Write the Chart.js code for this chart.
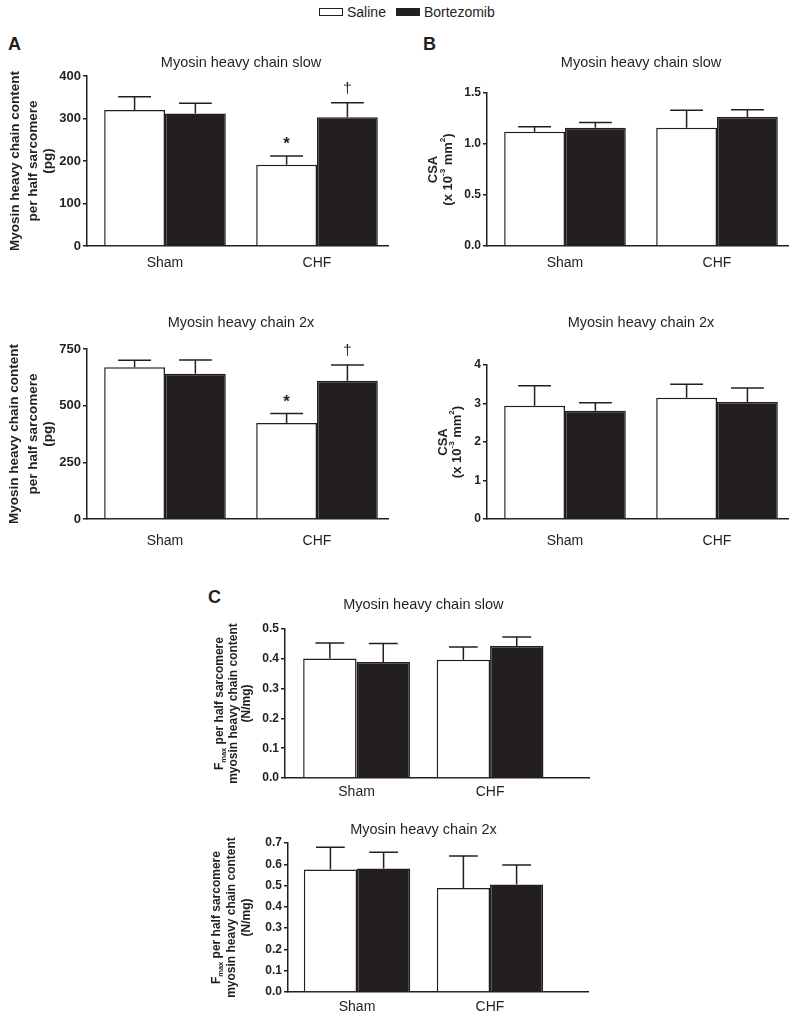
<!DOCTYPE html>
<html>
<head>
<meta charset="utf-8">
<script src="https://cdn.jsdelivr.net/npm/chart.js@4.4.1/dist/chart.umd.min.js"></script>
<style>
  body { margin: 0; background: #fff; font-family: "Liberation Sans", Arial, sans-serif; color: #231f20; }
  #page { position: relative; width: 800px; height: 1020px; overflow: hidden; }
  canvas { position: absolute; }
  .letter { position: absolute; font-weight: bold; font-size: 18px; line-height: 1; }
  #legend { position: absolute; top: 4px; left: 319px; display: flex; align-items: center; font-size: 14px; line-height: 16px; }
  .swatch { width: 22px; height: 6px; border: 1.5px solid #231f20; margin-right: 4px; }
</style>
</head>
<body>
<div id="page">
  <div id="legend">
    <span class="swatch" style="background:#fff"></span><span style="margin-right:10px">Saline</span>
    <span class="swatch" style="background:#231f20"></span><span>Bortezomib</span>
  </div>
  <div class="letter" style="left:8px;top:35px">A</div>
  <div class="letter" style="left:423px;top:35px">B</div>
  <div class="letter" style="left:208px;top:588px">C</div>
  <canvas id="a1" width="400" height="270"></canvas>
  <canvas id="a2" width="400" height="260"></canvas>
  <canvas id="b1" width="400" height="270"></canvas>
  <canvas id="b2" width="400" height="260"></canvas>
  <canvas id="c1" width="410" height="230"></canvas>
  <canvas id="c2" width="410" height="215"></canvas>
</div>
<script>
const groups = ["Sham", "CHF"];

// A: myosin heavy chain content per half sarcomere (pg), mean and SEM
const contentSlowSaline = [320, 191];
const contentSlowSalineSem = [31, 21];
const contentSlowBortezomib = [312, 303];
const contentSlowBortezomibSem = [24, 34];
const content2xSaline = [669, 424];
const content2xSalineSem = [31, 41];
const content2xBortezomib = [641, 610];
const content2xBortezomibSem = [60, 69];

// B: CSA (x10^-3 mm^2)
const csaSlowSaline = [1.12, 1.16];
const csaSlowSalineSem = [0.05, 0.17];
const csaSlowBortezomib = [1.16, 1.265];
const csaSlowBortezomibSem = [0.05, 0.07];
const csa2xSaline = [2.94, 3.15];
const csa2xSalineSem = [0.52, 0.35];
const csa2xBortezomib = [2.81, 3.04];
const csa2xBortezomibSem = [0.21, 0.36];

// C: Fmax per half sarcomere / myosin heavy chain content (N/mg)
const fmaxSlowSaline = [0.401, 0.397];
const fmaxSlowSalineSem = [0.052, 0.043];
const fmaxSlowBortezomib = [0.389, 0.443];
const fmaxSlowBortezomibSem = [0.062, 0.030];
const fmax2xSaline = [0.575, 0.489];
const fmax2xSalineSem = [0.105, 0.150];
const fmax2xBortezomib = [0.580, 0.505];
const fmax2xBortezomibSem = [0.076, 0.092];

// significance marks
const salineMarks = ["", "*"];
const bortezomibMarks = ["", "\u2020"];
const noMarks = ["", ""];

// y tick labels
const contentSlowTicks = [0, 100, 200, 300, 400];
const content2xTicks = [0, 250, 500, 750];
const csaSlowTicks = [0, 0.5, 1.0, 1.5];
const csa2xTicks = [0, 1, 2, 3, 4];
const fmaxSlowTicks = [0, 0.1, 0.2, 0.3, 0.4, 0.5];
const fmax2xTicks = [0, 0.1, 0.2, 0.3, 0.4, 0.5, 0.6, 0.7];

const titleSlow = "Myosin heavy chain slow";
const title2x = "Myosin heavy chain 2x";
const contentYTitle = [[["Myosin heavy chain content"]], [["per half sarcomere"]], [["(pg)"]]];
const csaYTitle = [[["CSA"]], [["(x 10"], ["-3", "sup"], [" mm"], ["2", "sup"], [")"]]];
const fmaxYTitle = [[["F"], ["max", "sub"], [" per half sarcomere"]], [["myosin heavy chain content"]], [["(N/mg)"]]];

const ink = "#231f20";
const family = '"Liberation Sans", Arial, sans-serif';

// where each panel sits on the page
const layout = {
  a1: { box: [0, 30, 400, 270], area: [87, 76, 388, 246], x: [-0.513, 1.467], titleGap: 13, yTitleX: [-72, -54, -39], yTitleSize: 13.5, labelGap: 9, tickSize: 13 },
  a2: { box: [0, 300, 400, 260], area: [87, 349, 388, 519], x: [-0.513, 1.467], titleGap: 26, yTitleX: [-73, -54, -39], yTitleSize: 13.5, labelGap: 14, tickSize: 13 },
  b1: { box: [400, 30, 400, 270], area: [487, 93, 788, 246], x: [-0.513, 1.467], titleGap: 30, yTitleX: [-54, -39], yTitleSize: 13, labelGap: 9, tickSize: 12 },
  b2: { box: [400, 300, 400, 260], area: [487, 365, 788, 519], x: [-0.513, 1.467], titleGap: 42, yTitleX: [-44, -30], yTitleSize: 13, labelGap: 14, tickSize: 12 },
  c1: { box: [190, 575, 410, 230], area: [285, 629, 589, 778], x: [-0.536, 1.741], titleGap: 24, yTitleX: [-65, -51, -38], yTitleSize: 12, labelGap: 6, tickSize: 12 },
  c2: { box: [190, 805, 410, 215], area: [288, 843, 588, 992], x: [-0.519, 1.737], titleGap: 13, yTitleX: [-71, -56, -41], yTitleSize: 12, labelGap: 7, tickSize: 12 },
};

const panels = [
  { id: "a1", title: titleSlow, yTitle: contentYTitle, ticks: contentSlowTicks, decimals: 0,
    series: [[contentSlowSaline, contentSlowSalineSem, salineMarks], [contentSlowBortezomib, contentSlowBortezomibSem, bortezomibMarks]] },
  { id: "a2", title: title2x, yTitle: contentYTitle, ticks: content2xTicks, decimals: 0,
    series: [[content2xSaline, content2xSalineSem, salineMarks], [content2xBortezomib, content2xBortezomibSem, bortezomibMarks]] },
  { id: "b1", title: titleSlow, yTitle: csaYTitle, ticks: csaSlowTicks, decimals: 1,
    series: [[csaSlowSaline, csaSlowSalineSem, noMarks], [csaSlowBortezomib, csaSlowBortezomibSem, noMarks]] },
  { id: "b2", title: title2x, yTitle: csaYTitle, ticks: csa2xTicks, decimals: 0,
    series: [[csa2xSaline, csa2xSalineSem, noMarks], [csa2xBortezomib, csa2xBortezomibSem, noMarks]] },
  { id: "c1", title: titleSlow, yTitle: fmaxYTitle, ticks: fmaxSlowTicks, decimals: 1,
    series: [[fmaxSlowSaline, fmaxSlowSalineSem, noMarks], [fmaxSlowBortezomib, fmaxSlowBortezomibSem, noMarks]] },
  { id: "c2", title: title2x, yTitle: fmaxYTitle, ticks: fmax2xTicks, decimals: 1,
    series: [[fmax2xSaline, fmax2xSalineSem, noMarks], [fmax2xBortezomib, fmax2xBortezomibSem, noMarks]] },
];

function drawRich(ctx, segs, cx, cy, size) {
  const parts = segs.map(([text, mode]) => {
    const s = mode ? size * 0.62 : size;
    ctx.font = `bold ${s}px ${family}`;
    return { text, mode, s, w: ctx.measureText(text).width };
  });
  const total = parts.reduce((a, p) => a + p.w, 0);
  ctx.save();
  ctx.translate(cx, cy);
  ctx.rotate(-Math.PI / 2);
  ctx.textAlign = "left";
  ctx.textBaseline = "middle";
  let x = -total / 2;
  parts.forEach((p) => {
    ctx.font = `bold ${p.s}px ${family}`;
    const dy = p.mode === "sup" ? -size * 0.4 : p.mode === "sub" ? size * 0.35 : 0;
    ctx.fillText(p.text, x, dy);
    x += p.w;
  });
  ctx.restore();
}

// error bars, significance marks, panel title and y-axis title
function decorations(p, lay) {
  return {
    id: "deco",
    afterDatasetsDraw(chart) {
      const ctx = chart.ctx;
      const area = chart.chartArea;
      const y = chart.scales.y;
      ctx.save();
      ctx.strokeStyle = ink;
      ctx.fillStyle = ink;
      ctx.lineWidth = 1.5;
      let first = Infinity, last = -Infinity;
      chart.data.datasets.forEach((ds, di) => {
        chart.getDatasetMeta(di).data.forEach((bar, j) => {
          first = Math.min(first, bar.x - bar.width / 2);
          last = Math.max(last, bar.x + bar.width / 2);
          const top = y.getPixelForValue(ds.data[j].y + ds.sem[j]);
          const half = bar.width * 0.27;
          ctx.beginPath();
          ctx.moveTo(bar.x, bar.y);
          ctx.lineTo(bar.x, top);
          ctx.moveTo(bar.x - half, top);
          ctx.lineTo(bar.x + half, top);
          ctx.stroke();
          const mark = ds.marks[j];
          if (mark) {
            ctx.font = mark === "*" ? `bold 17px ${family}` : `15px ${family}`;
            const m = ctx.measureText(mark);
            ctx.textAlign = "center";
            ctx.textBaseline = "alphabetic";
            ctx.fillText(mark, bar.x, top - 15 + (m.actualBoundingBoxAscent - m.actualBoundingBoxDescent) / 2);
          }
        });
      });
      ctx.font = `14.5px ${family}`;
      ctx.textAlign = "center";
      ctx.textBaseline = "middle";
      ctx.fillText(p.title, (first + last) / 2, area.top - lay.titleGap);
      const cy = (area.top + area.bottom) / 2;
      p.yTitle.forEach((line, k) => drawRich(ctx, line, area.left + lay.yTitleX[k], cy, lay.yTitleSize));
      ctx.restore();
    },
  };
}

panels.forEach((p) => {
  const lay = layout[p.id];
  const el = document.getElementById(p.id);
  const [bx, by, bw, bh] = lay.box;
  const [L, T, R, B] = lay.area;
  el.style.left = bx + "px";
  el.style.top = by + "px";
  // x labels are clipped to the axis box, so it must hold gap + text
  const yWidth = 40, xHeight = lay.labelGap + 20;
  const padding = { left: L - bx - yWidth, top: T - by, right: bx + bw - R, bottom: Math.max(0, by + bh - B - xHeight) };
  const fills = ["#ffffff", ink];
  const datasets = p.series.map(([values, sem, marks], i) => ({
    data: values.map((v, j) => ({ x: j, y: v })),
    sem,
    marks,
    backgroundColor: fills[i],
    borderColor: ink,
    borderWidth: 1.5,
    categoryPercentage: 0.8,
    barPercentage: 1,
  }));
  const ticks = p.ticks;
  new Chart(el, {
    type: "bar",
    data: { datasets },
    options: {
      responsive: false,
      animation: false,
      devicePixelRatio: 1,
      events: [],
      layout: { padding },
      plugins: { legend: { display: false }, tooltip: { enabled: false }, title: { display: false } },
      scales: {
        x: {
          type: "linear",
          min: lay.x[0],
          max: lay.x[1],
          offset: false,
          grid: { display: false, drawTicks: false },
          border: { color: ink, width: 1.5 },
          ticks: {
            stepSize: 1,
            includeBounds: false,
            autoSkip: false,
            padding: lay.labelGap,
            color: ink,
            font: { family, size: 14 },
            callback: (v) => groups[v] ?? "",
          },
          afterFit: (s) => { s.height = xHeight; },
        },
        y: {
          min: ticks[0],
          max: ticks[ticks.length - 1],
          grid: { drawOnChartArea: false, tickLength: 4, color: ink, lineWidth: 1.5 },
          border: { color: ink, width: 1.5 },
          ticks: {
            stepSize: ticks[1] - ticks[0],
            padding: 2,
            color: ink,
            font: { family, size: lay.tickSize, weight: "bold" },
            callback: (v) => v.toFixed(p.decimals),
          },
          afterFit: (s) => { s.width = yWidth; },
        },
      },
    },
    plugins: [decorations(p, lay)],
  });
});
</script>
</body>
</html>
